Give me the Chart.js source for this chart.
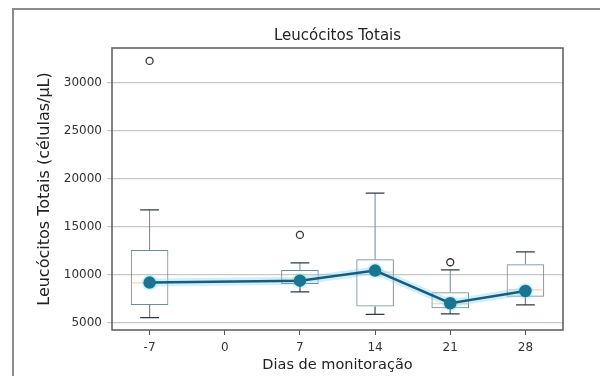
<!DOCTYPE html>
<html>
<head>
<meta charset="utf-8">
<script src="https://cdn.jsdelivr.net/npm/chart.js@4/dist/chart.umd.min.js"></script>
<style>
    body { margin: 0; background: #fff; }
    #wrap { position: relative; width: 600px; height: 376px; }
    #frame {
        position: absolute; left: 12px; top: 8px; right: 0; bottom: 0;
        border-left: 2px solid #8c8c8c; border-top: 2px solid #8c8c8c;
        pointer-events: none;
    }
    canvas { position: absolute; left: 0; top: 0; }
</style>
</head>
<body>
<div id="wrap">
    <canvas id="myChart" width="600" height="376"></canvas>
    <div id="frame"></div>
</div>
<script>
// dias de monitoracao
const positions = [-7, 7, 14, 21, 28];
const xTicks = [-7, 0, 7, 14, 21, 28];
const yTicks = [5000, 10000, 15000, 20000, 25000, 30000];

// boxplot (leucocitos totais, celulas/uL)
const whiskerLow = [5550, 8230, 5900, 5940, 6875];
const q1 = [6875, 9060, 6700, 6530, 7740];
const medians = [9170, 9500, 10300, 7000, 8450];
const q3 = [12600, 10520, 11630, 8200, 11110];
const whiskerHigh = [16770, 11250, 18510, 10520, 12400];
const outlierX = [-7, 7, 21];
const outlierY = [32290, 14170, 11320];

// media por dia
const means = [9200, 9400, 10450, 7050, 8330];

const boxHalf = 1.75;   // metade da largura da caixa (em dias)
const capHalf = 0.875;

// monta os segmentos (null = quebra da linha)
let whiskers = [];
let caps = [];
let medLines = [];
positions.forEach((p, i) => {
    whiskers.push({x: p, y: q3[i]}, {x: p, y: whiskerHigh[i]}, {x: p, y: null});
    whiskers.push({x: p, y: q1[i]}, {x: p, y: whiskerLow[i]}, {x: p, y: null});
    caps.push({x: p - capHalf, y: whiskerHigh[i]}, {x: p + capHalf, y: whiskerHigh[i]}, {x: p, y: null});
    caps.push({x: p - capHalf, y: whiskerLow[i]}, {x: p + capHalf, y: whiskerLow[i]}, {x: p, y: null});
    medLines.push({x: p - boxHalf, y: medians[i]}, {x: p + boxHalf, y: medians[i]}, {x: p, y: null});
});

const boxes = positions.map((p, i) => ({x: p, y: [q1[i], q3[i]]}));
const outliers = outlierX.map((x, i) => ({x: x, y: outlierY[i]}));
const meanPts = positions.map((p, i) => ({x: p, y: means[i]}));

// cadre autour de la zone du graphique
const frameBox = {
    id: 'frameBox',
    afterDraw(chart) {
        const a = chart.chartArea;
        const ctx = chart.ctx;
        ctx.save();
        ctx.strokeStyle = '#5a5a5a';
        ctx.lineWidth = 1.5;
        ctx.strokeRect(a.left, a.top, a.right - a.left, a.bottom - a.top);
        ctx.restore();
    }
};

const lineBase = {type: 'line', xAxisID: 'x', yAxisID: 'y', pointRadius: 0, spanGaps: false, fill: false, tension: 0};

const ctx = document.getElementById('myChart').getContext('2d');
const chart = new Chart(ctx, {
    data: {
        datasets: [
            Object.assign({}, lineBase, {
                label: 'média', data: meanPts, order: 0,
                borderColor: '#1f5a7e', borderWidth: 2.5,
                pointRadius: 5, pointBackgroundColor: '#1b7590', pointBorderColor: '#1b7590'
            }),
            Object.assign({}, lineBase, {
                label: 'halo', data: meanPts, order: 1,
                borderColor: 'rgba(110,215,245,0.35)', borderWidth: 8,
                pointRadius: 8, pointBackgroundColor: 'rgba(110,215,245,0.3)', pointBorderWidth: 0
            }),
            Object.assign({}, lineBase, {
                label: 'outliers', data: outliers, order: 2, showLine: false,
                pointRadius: 3.5, pointBorderWidth: 1.3,
                pointBackgroundColor: 'rgba(0,0,0,0)', pointBorderColor: '#333'
            }),
            Object.assign({}, lineBase, {
                label: 'mediana', data: medLines, order: 3,
                borderColor: 'rgba(250,165,80,0.55)', borderWidth: 1
            }),
            Object.assign({}, lineBase, {
                label: 'caps', data: caps, order: 4,
                borderColor: '#2e3b44', borderWidth: 1.3
            }),
            Object.assign({}, lineBase, {
                label: 'whiskers', data: whiskers, order: 5,
                borderColor: '#6b8a99', borderWidth: 1
            }),
            {
                type: 'bar', label: 'caixas', data: boxes, order: 6, xAxisID: 'x', yAxisID: 'y',
                backgroundColor: 'rgba(0,0,0,0)', borderColor: '#6d8c9b', borderWidth: 1,
                borderSkipped: false, barPercentage: 0.5, categoryPercentage: 1, grouped: false
            }
        ]
    },
    options: {
        responsive: false,
        animation: false,
        layout: { padding: { left: 0, right: 37, top: 0, bottom: 0 } },
        plugins: {
            legend: { display: false },
            tooltip: { enabled: false }
        },
        scales: {
            x: {
                type: 'linear',
                offset: false,
                min: -10.5,
                max: 31.5,
                afterBuildTicks: (scale) => { scale.ticks = xTicks.map(v => ({value: v})); },
                afterFit: (scale) => { scale.height = 46; },
                grid: { offset: false, drawOnChartArea: false, drawTicks: true, tickLength: 5, color: '#555' },
                border: { display: false },
                ticks: {
                    color: '#333', padding: 6,
                    font: { family: 'DejaVu Sans', size: 12 }
                },
                title: {
                    display: true, text: 'Dias de monitoração', color: '#222',
                    font: { family: 'DejaVu Sans', size: 14.5 },
                    padding: { top: 0, bottom: 2 }
                }
            },
            // eixo de cima só para o título (centrado na área do gráfico)
            xTop: {
                type: 'linear',
                position: 'top',
                offset: false,
                min: -10.5,
                max: 31.5,
                afterFit: (scale) => { scale.height = 48; },
                grid: { display: false },
                border: { display: false },
                ticks: { display: false },
                title: {
                    display: true, text: 'Leucócitos Totais', color: '#222',
                    font: { family: 'DejaVu Sans', size: 15, lineHeight: 1.2 },
                    padding: { top: 27, bottom: 0 }
                }
            },
            y: {
                type: 'linear',
                min: 4265,
                max: 33635,
                afterBuildTicks: (scale) => { scale.ticks = yTicks.map(v => ({value: v})); },
                afterFit: (scale) => { scale.width = 112; },
                grid: {
                    drawOnChartArea: true, drawTicks: true, tickLength: 5,
                    color: '#c8c8c8', lineWidth: 1.2
                },
                border: { display: false },
                ticks: {
                    color: '#333', padding: 5,
                    font: { family: 'DejaVu Sans', size: 12 },
                    callback: (v) => String(v)
                },
                title: {
                    display: true, text: 'Leucócitos Totais (células/μL)', color: '#222',
                    font: { family: 'DejaVu Sans', size: 16 },
                    padding: { top: 35, bottom: 0 }
                }
            }
        }
    },
    plugins: [frameBox]
});
</script>
</body>
</html>
